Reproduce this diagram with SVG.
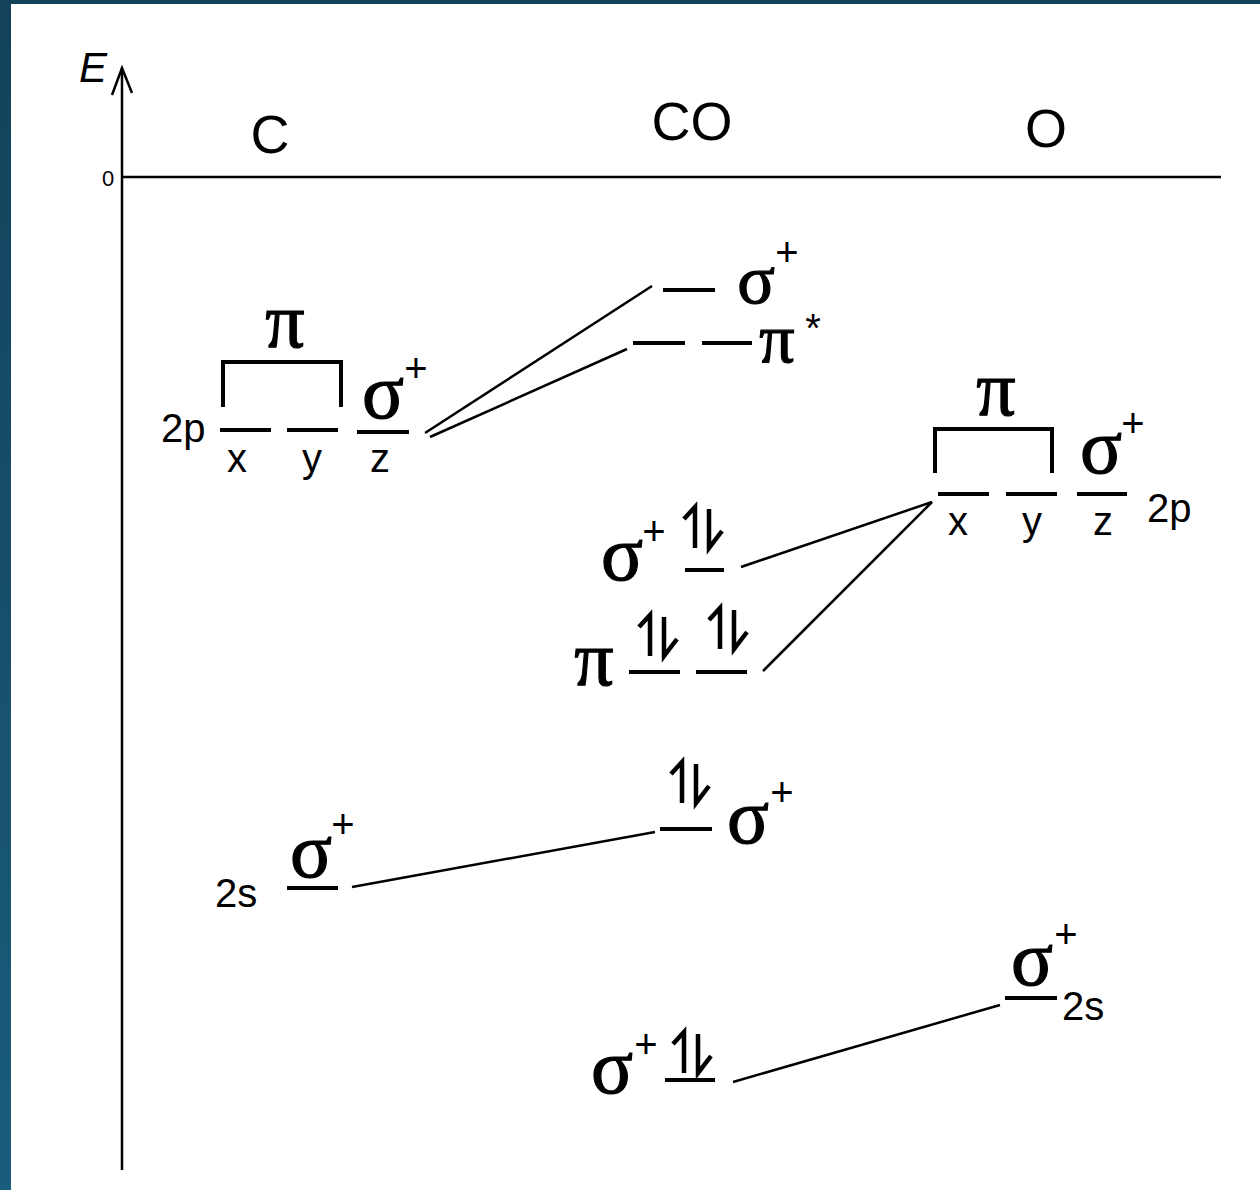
<svg xmlns="http://www.w3.org/2000/svg" width="1260" height="1190" viewBox="0 0 1260 1190">
<defs>
<linearGradient id="bg" x1="0" y1="0" x2="0" y2="1">
<stop offset="0" stop-color="#13425a"/>
<stop offset="1" stop-color="#1a5c7c"/>
</linearGradient>
<path id="spin" d="M12,41 V0 L1,12 M26,2 V41 L39,24" fill="none" stroke="#000" stroke-width="4.5"/>
</defs>
<style>
.lvl{stroke:#000;stroke-width:4;fill:none}
.br{stroke:#000;stroke-width:4;fill:none}
.con line{stroke:#000;stroke-width:2.5}
.g{font-family:"Liberation Serif","DejaVu Serif",serif;font-size:78px;text-anchor:middle;fill:#000;stroke:#000;stroke-width:1.2}
.gs{font-family:"Liberation Serif","DejaVu Serif",serif;font-size:70px;text-anchor:middle;fill:#000;stroke:#000;stroke-width:1.2}
.l{font-family:"Liberation Sans",Arial,sans-serif;font-size:40px;fill:#000}
.s{font-family:"Liberation Sans",Arial,sans-serif;font-size:40px;text-anchor:middle;fill:#000}
.t{font-family:"Liberation Sans",Arial,sans-serif;font-size:54px;text-anchor:middle;fill:#000}
</style>
<rect x="0" y="0" width="1260" height="1190" fill="url(#bg)"/>
<rect x="11" y="4" width="1249" height="1186" fill="#fff"/>

<g id="axes">
<line x1="122" y1="1170" x2="122" y2="68" stroke="#000" stroke-width="2.5"/>
<polyline points="112,95 122,68 132,93" fill="none" stroke="#000" stroke-width="2.5"/>
<line x1="122" y1="177" x2="1221" y2="177" stroke="#000" stroke-width="2.5"/>
<text x="79" y="82" font-family="Liberation Sans,Arial,sans-serif" font-style="italic" font-size="42px">E</text>
<text x="102" y="186" font-family="Liberation Sans,Arial,sans-serif" font-size="22px">0</text>
</g>

<g id="titles">
<text class="t" x="270" y="153">C</text>
<text class="t" x="692" y="140">CO</text>
<text class="t" x="1046" y="147">O</text>
</g>

<g class="con" id="connectors">
<line x1="425" y1="433" x2="652" y2="286"/>
<line x1="430" y1="437" x2="627" y2="349"/>
<line x1="932" y1="502" x2="741" y2="567"/>
<line x1="932" y1="502" x2="763" y2="671"/>
<line x1="352" y1="887" x2="655" y2="832"/>
<line x1="733" y1="1082" x2="1000" y2="1005"/>
</g>

<g id="C-2p">
<path class="br" d="M223,407 V362 H341 V407"/>
<text class="g" x="285" y="347">π</text>
<line class="lvl" x1="220" y1="430" x2="271" y2="430"/>
<line class="lvl" x1="287" y1="430" x2="338" y2="430"/>
<line class="lvl" x1="357" y1="432" x2="409" y2="432"/>
<text class="l" x="161" y="442">2p</text>
<text class="s" x="237" y="472">x</text>
<text class="s" x="312" y="472">y</text>
<text class="s" x="380" y="472">z</text>
<text class="g" x="383" y="418" font-size="82px">σ</text>
<text class="s" x="416" y="382">+</text>
</g>

<g id="CO-sigma-star">
<line class="lvl" x1="663" y1="290" x2="715" y2="290"/>
<text class="gs" x="756" y="303">σ</text>
<text class="s" x="787" y="266">+</text>
</g>

<g id="CO-pi-star">
<line class="lvl" x1="633" y1="343" x2="685" y2="343"/>
<line class="lvl" x1="702" y1="343" x2="752" y2="343"/>
<text class="gs" x="777" y="362">π</text>
<text class="s" x="813" y="342" font-size="30px">*</text>
</g>

<g id="O-2p">
<path class="br" d="M935,473 V429 H1052 V473"/>
<text class="g" x="996" y="415">π</text>
<line class="lvl" x1="938" y1="494" x2="989" y2="494"/>
<line class="lvl" x1="1006" y1="494" x2="1057" y2="494"/>
<line class="lvl" x1="1077" y1="494" x2="1127" y2="494"/>
<text class="s" x="958" y="535">x</text>
<text class="s" x="1032" y="535">y</text>
<text class="s" x="1103" y="535">z</text>
<text class="g" x="1101" y="473" font-size="82px">σ</text>
<text class="s" x="1133" y="437">+</text>
<text class="l" x="1147" y="522">2p</text>
</g>

<g id="CO-sigma-2p">
<text class="g" x="622" y="580">σ</text>
<text class="s" x="654" y="545">+</text>
<use href="#spin" x="683" y="507"/>
<line class="lvl" x1="685" y1="570" x2="724" y2="570"/>
</g>

<g id="CO-pi">
<text class="g" x="594" y="685">π</text>
<use href="#spin" x="638" y="615"/>
<use href="#spin" x="708" y="608"/>
<line class="lvl" x1="629" y1="672" x2="680" y2="672"/>
<line class="lvl" x1="696" y1="672" x2="747" y2="672"/>
</g>

<g id="C-2s">
<text class="l" x="215" y="907" font-size="44px">2s</text>
<line class="lvl" x1="287" y1="888" x2="338" y2="888"/>
<text class="g" x="311" y="877">σ</text>
<text class="s" x="343" y="838">+</text>
</g>

<g id="CO-sigma-2s">
<use href="#spin" x="670" y="762"/>
<line class="lvl" x1="660" y1="829" x2="712" y2="829"/>
<text class="g" x="748" y="843">σ</text>
<text class="s" x="782" y="806">+</text>
</g>

<g id="CO-sigma-low">
<text class="g" x="612" y="1093">σ</text>
<text class="s" x="646" y="1058">+</text>
<use href="#spin" x="672" y="1032"/>
<line class="lvl" x1="665" y1="1080" x2="715" y2="1080"/>
</g>

<g id="O-2s">
<text class="g" x="1032" y="985">σ</text>
<text class="s" x="1066" y="948">+</text>
<line class="lvl" x1="1005" y1="998" x2="1057" y2="998"/>
<text class="l" x="1062" y="1020" font-size="44px">2s</text>
</g>
</svg>
